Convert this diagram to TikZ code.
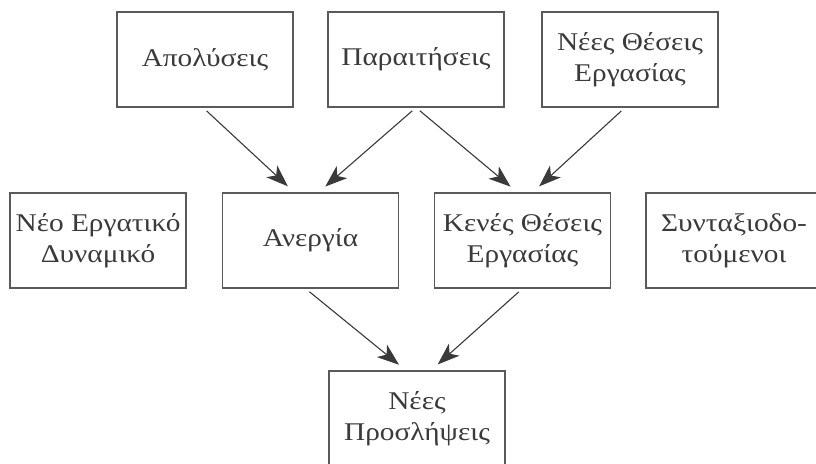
\documentclass[tikz,border=0pt]{standalone}
\usepackage{fontspec}
\setmainfont[FakeStretch=1.15]{Liberation Serif}
\usetikzlibrary{arrows.meta}
\definecolor{ink}{HTML}{3A3A3A}
\definecolor{frame}{HTML}{5A5A5A}
\tikzset{
  box/.style={draw=frame, line width=1.1pt, minimum width=176pt, minimum height=95pt,
    inner sep=0pt, align=center, text=ink, font=\fontsize{25.5}{31}\selectfont},
  arr/.style={draw=frame, line width=1.1pt, shorten <=5pt, shorten >=9pt,
    -{Stealth[length=22pt,width=16pt,inset=6pt]}, color=ink}
}
\begin{document}
\begin{tikzpicture}[x=1pt,y=-1pt]
\path[use as bounding box, clip] (0,0) rectangle (816,463);
\fill[white] (0,0) rectangle (816,463);
% top row
\node[box] (apol) at (205,59.5) {Απολύσεις};
\node[box] (parait) at (416,59.5) {Παραιτήσεις};
\node[box] (nees) at (630,59.5) {Νέες Θέσεις\\Εργασίας};
% middle row
\node[box] (neo) at (98,240.5) {Νέο Εργατικό\\Δυναμικό};
\node[box] (aner) at (310.5,240.5) {Ανεργία};
\node[box] (kenes) at (522.5,240.5) {Κενές Θέσεις\\Εργασίας};
\node[box] (synt) at (734,240.5) {Συνταξιοδο-\\τούμενοι};
% bottom
\node[box] (pros) at (417,418.5) {Νέες\\Προσλήψεις};
% arrows
\draw[arr] ([xshift=-2pt]apol.south) -- ([xshift=-16pt]aner.north);
\draw[arr] (parait.south) -- ([xshift=8pt]aner.north);
\draw[arr] (parait.south) -- ([xshift=-5pt]kenes.north);
\draw[arr] ([xshift=-5pt]nees.south) -- ([xshift=10pt]kenes.north);
\draw[arr] ([xshift=-5pt]aner.south) -- ([xshift=-11pt]pros.north);
\draw[arr] (kenes.south) -- ([xshift=14pt]pros.north);
\end{tikzpicture}
\end{document}
